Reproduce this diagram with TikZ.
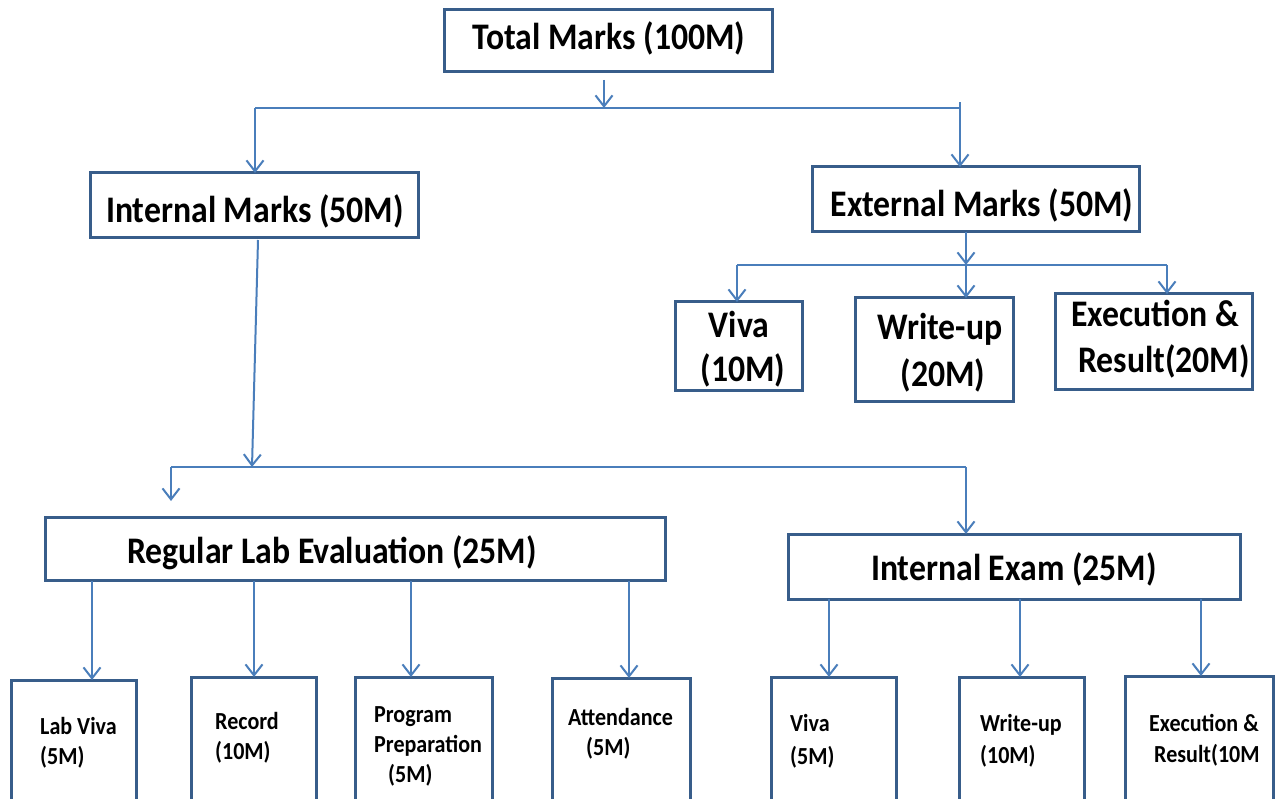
\documentclass[tikz,border=0pt]{standalone}
\usepackage{fontspec}
\setmainfont{Carlito}[FakeStretch=0.9]
\usetikzlibrary{arrows.meta}
\definecolor{boxc}{RGB}{56,93,138}
\definecolor{arrc}{RGB}{74,126,187}
\tikzset{
  box/.style={draw=boxc, line width=3pt, fill=white, inner sep=0pt, outer sep=0pt},
  big/.style={font=\fontsize{37.5}{40}\selectfont\bfseries, inner sep=0pt, anchor=base},
  small/.style={font=\fontsize{24.5}{28}\selectfont\bfseries, inner sep=0pt, anchor=base west},
  conn/.style={draw=arrc, line width=2pt},
  arr/.style={conn, -{Straight Barb[length=11pt,width=17pt]}},
}
\newcommand{\boxat}[5]{\node[box, minimum width={#4-#2}, minimum height={#5-#3}] (#1) at ({(#2+#4)/2},{(#3+#5)/2}) {};}
\begin{document}
\begin{tikzpicture}[x=1pt,y=-1pt]
\useasboundingbox (0,0) rectangle (1275,799);
\clip (0,0) rectangle (1275,799);
% boxes
\boxat{total}{444}{10}{772}{72}
\boxat{internal}{90}{173}{418}{238}
\boxat{external}{812}{167}{1139}{232}
\boxat{evv}{675}{302}{802}{391}
\boxat{ewu}{855}{298}{1013}{402}
\boxat{eex}{1055}{294}{1252}{390}
\boxat{regular}{45}{517}{665}{580}
\boxat{iexam}{788}{534}{1240}{599}
\boxat{labviva}{11}{680}{136}{812}
\boxat{record}{191}{677}{316}{812}
\boxat{program}{355}{677}{492}{812}
\boxat{attend}{552}{678}{690}{812}
\boxat{ivv}{771}{677}{896}{812}
\boxat{iwu}{959}{677}{1084}{812}
\boxat{iex}{1125}{676}{1273}{812}
% big texts
\node[big] (ttotal) at (609,50) {Total Marks (100M)};
\node[big] (tint) at (255,223) {Internal Marks (50M)};
\node[big] (text) at (982,217) {External Marks (50M)};
\node[big] (tevv1) at (739,338) {Viva};
\node[big] (tevv2) at (743,382) {(10M)};
\node[big] (tewu1) at (940,340) {Write-up};
\node[big] (tewu2) at (943,387) {(20M)};
\node[big] (teex1) at (1155,327) {Execution \&};
\node[big] (teex2) at (1164,373) {Result(20M)};
\node[big] (treg) at (332,563) {Regular Lab Evaluation (25M)};
\node[big] (tiexam) at (1014,580) {Internal Exam (25M)};
% small texts
\node[small] (s1) at (40,734) {Lab Viva};
\node[small] (s2) at (40,764) {(5M)};
\node[small] (s3) at (215,729) {Record};
\node[small] (s4) at (215,759) {(10M)};
\node[small] (s5) at (374,722) {Program};
\node[small] (s6) at (374,752) {Preparation};
\node[small] (s7) at (388,782) {(5M)};
\node[small] (s8) at (568,725) {Attendance};
\node[small] (s9) at (586,755) {(5M)};
\node[small] (s10) at (790,731) {Viva};
\node[small] (s11) at (790,764) {(5M)};
\node[small] (s12) at (980,731) {Write-up};
\node[small] (s13) at (980,763) {(10M)};
\node[small] (s14) at (1149,731) {Execution \&};
\node[small] (s15) at (1154,762) {Result(10M};
% connector points
\coordinate (t0) at (604,80);
\coordinate (jt) at (604,108);
\coordinate (jl) at (255,108);
\coordinate (jr) at (960,108);
\coordinate (jrtop) at (960,102);
\coordinate (e0) at (966,232);
\coordinate (je) at (966,265);
\coordinate (je1) at (737,265);
\coordinate (je3) at (1167,265);
\coordinate (i0) at (258,240);
\coordinate (ji) at (252,467);
\coordinate (ji1) at (171,467);
\coordinate (ji2) at (966,467);
\coordinate (r1) at (92,581);
\coordinate (r2) at (254,581);
\coordinate (r3) at (411,581);
\coordinate (r4) at (629,581);
\coordinate (x1) at (829,599);
\coordinate (x2) at (1020,599);
\coordinate (x3) at (1201,599);
% connectors
\draw[arr] (t0) -- (jt);
\draw[conn] (jl) -- (jr) -- (jrtop);
\draw[arr] (jl) -- (internal.north -| jl);
\draw[arr] (jr) -- (external.north -| jr);
\draw[arr] (e0) -- (je);
\draw[conn] (je1) -- (je3);
\draw[arr] (je1) -- (evv.north -| je1);
\draw[arr] (je) -- (ewu.north -| je);
\draw[arr] (je3) -- (eex.north -| je3);
\draw[arr] (i0) -- (ji);
\draw[conn] (ji1) -- (ji2);
\draw[arr] (ji1) -- ([yshift=16pt]regular.north -| ji1);
\draw[arr] (ji2) -- (iexam.north -| ji2);
\draw[arr] (r1) -- (labviva.north -| r1);
\draw[arr] (r2) -- (record.north -| r2);
\draw[arr] (r3) -- (program.north -| r3);
\draw[arr] (r4) -- (attend.north -| r4);
\draw[arr] (x1) -- (ivv.north -| x1);
\draw[arr] (x2) -- (iwu.north -| x2);
\draw[arr] (x3) -- (iex.north -| x3);
\end{tikzpicture}
\end{document}
